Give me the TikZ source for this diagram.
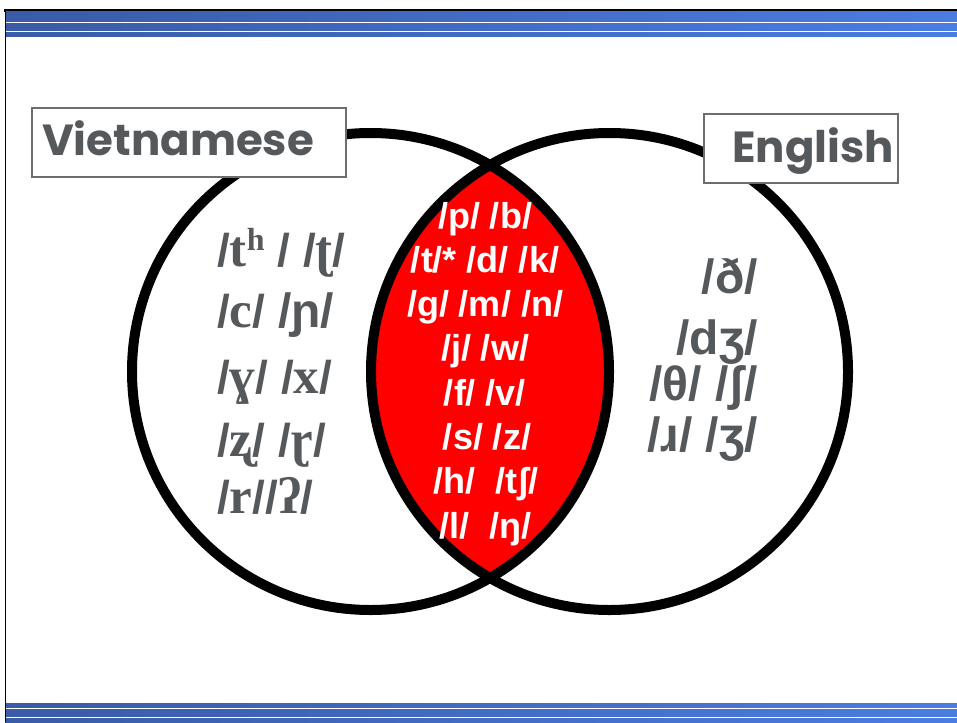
\documentclass[tikz,border=0pt]{standalone}
\usepackage{fontspec}
\setmainfont{Liberation Serif}
\newfontfamily\labfont{Poppins}
\newfontfamily\ipas{Liberation Sans}
\definecolor{txtgray}{HTML}{55595C}
\definecolor{boxgray}{HTML}{6A6E71}
\definecolor{bandL}{HTML}{3A5BA6}
\definecolor{bandR}{HTML}{4B7CE2}
\definecolor{lensred}{HTML}{FF0000}
\newcommand{\sla}{{\ipas\bfseries\fontsize{46}{46}\selectfont/}}
\tikzset{
  ring/.style={circle,draw=black,line width=10pt,inner sep=0pt,minimum size=477pt},
  labelbox/.style={draw=boxgray,line width=2pt,fill=white,inner sep=0pt},
  labeltext/.style={text=txtgray,font=\labfont\bfseries\fontsize{43.5}{43.5}\selectfont,inner sep=0pt,anchor=base west},
  viet/.style={text=txtgray,font=\bfseries\fontsize{51}{51}\selectfont,inner sep=0pt,anchor=base west},
  both/.style={text=white,font=\ipas\bfseries\fontsize{36}{36}\selectfont,inner sep=0pt,anchor=base},
  eng/.style={text=txtgray,font=\ipas\bfseries\fontsize{48}{48}\selectfont,inner sep=0pt,anchor=base east},
  band/.style={left color=bandL,right color=bandR}
}
\begin{document}
\begin{tikzpicture}[x=1pt,y=-1pt]
\useasboundingbox (0,0) rectangle (957,722);
\fill[white] (0,0) rectangle (957,722);
% top bands
\fill[black] (4,9.5) rectangle (957,12);
\fill[band] (5,12) rectangle (957,22);
\fill[band] (5,24) rectangle (957,31);
\fill[band] (5,33) rectangle (957,37);
% bottom bands
\fill[band] (5,703) rectangle (957,707);
\fill[band] (5,709) rectangle (957,716);
\fill[band] (5,718) rectangle (957,722);
\draw[black,line width=1.6pt] (5.5,9.5) -- (5.5,722);
% lens
\begin{scope}
  \clip (370.5,371.5) circle[radius=238.5];
  \fill[lensred] (609.5,371.5) circle[radius=238.5];
\end{scope}
\node[ring] (vn) at (370.5,371.5) {};
\node[ring] (en) at (609.5,371.5) {};
% label boxes
\node[labelbox,anchor=north west,minimum width=314pt,minimum height=69pt] (vbox) at (31,107) {};
\node[labeltext] (vtext) at (42,156) {Vietnamese};
\node[labelbox,anchor=north west,minimum width=194pt,minimum height=69pt] (ebox) at (703,113) {};
\node[labeltext] (etext) at (732,162) {English};
% Vietnamese only
\node[viet] (v1) at (217,266) {\sla t\raisebox{0.3em}{\fontsize{32}{32}\selectfont h} \sla{} \sla ʈ\sla};
\node[viet] (v2) at (217,327) {\sla c\sla{} {\ipas\bfseries\fontsize{48}{48}\selectfont/ɲ/}};
\node[viet] (v3) at (217,393) {\sla ɣ\sla{} \sla x\sla};
\node[viet] (v4) at (217,456) {\sla ʐ\sla{} \sla ɽ\sla};
\node[viet] (v5) at (217,513) {\sla r\sla\sla ʔ\sla};
% shared
\node[both] (b1) at (485,228) {/p/ /b/};
\node[both] (b2) at (485,272.3) {/t/* /d/ /k/};
\node[both] (b3) at (485,316.6) {/g/ /m/ /n/};
\node[both] (b4) at (485,360.9) {/j/ /w/};
\node[both] (b5) at (485,405.2) {/f/ /v/};
\node[both] (b6) at (487,449.5) {/s/ /z/};
\node[both] (b7) at (486,493.8) {/h/\ \ /tʃ/};
\node[both] (b8) at (485,538.1) {/l/\ \ /ŋ/};
% English only
\node[eng] (e1) at (758,293) {/ð/};
\node[eng] (e2) at (758,354) {/dʒ/};
\node[eng] (e3) at (758,400) {/θ/ /ʃ/};
\node[eng] (e4) at (758,451) {/ɹ/ /ʒ/};
\end{tikzpicture}
\end{document}
